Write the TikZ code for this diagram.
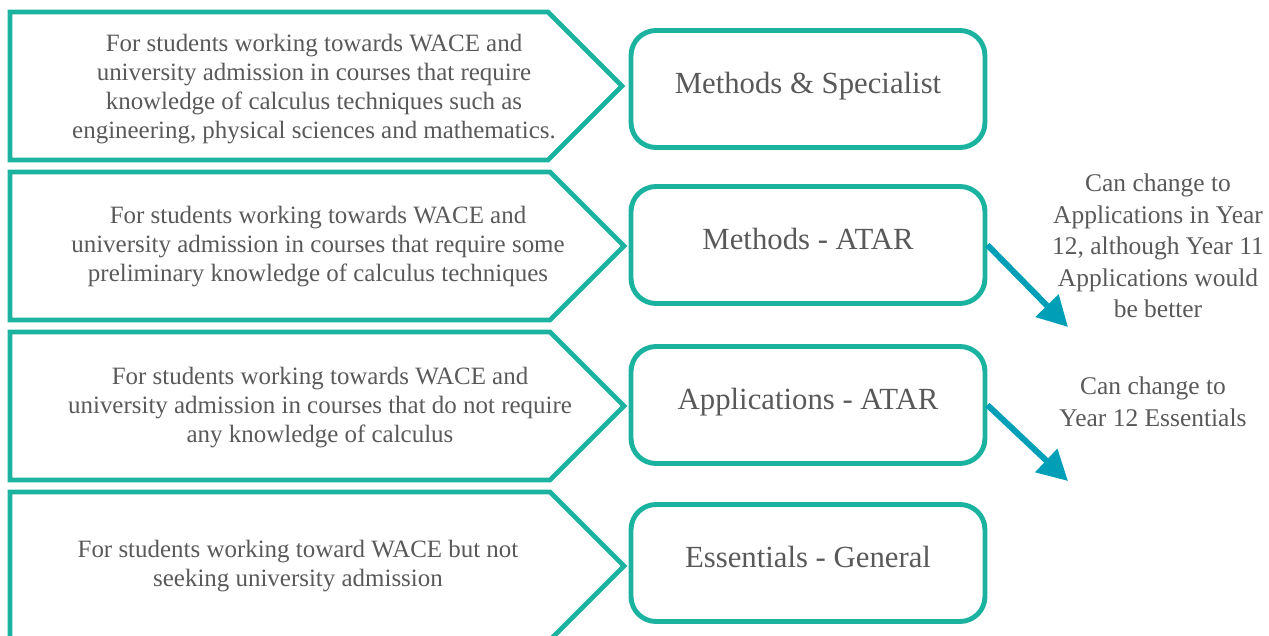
\documentclass[tikz,border=0pt]{standalone}
\usepackage{fontspec}
\setmainfont{Liberation Serif}
\usetikzlibrary{arrows.meta}
\definecolor{tealline}{HTML}{1BB3A0}
\definecolor{arrowblue}{HTML}{009FB8}
\definecolor{textgray}{HTML}{595959}
\tikzset{
  chevron/.style={draw=tealline, line width=2.8pt, line join=miter},
  desc/.style={text=textgray, align=center, font=\fontsize{14.2}{16.5}\selectfont},
  course/.style={draw=tealline, line width=2.8pt, rounded corners=0.5cm, minimum width=7.08cm,
    minimum height=2.34cm, text depth=0.25cm, text=textgray, font=\fontsize{17.5}{20}\selectfont},
  note/.style={text=textgray, align=center, font=\fontsize{14.5}{18}\selectfont},
  change/.style={draw=arrowblue, line width=3.4pt, -{Triangle[length=0.6cm,width=0.62cm]}}
}
\begin{document}
\begin{tikzpicture}[x=0.02cm, y=-0.02cm]
        \useasboundingbox (0,0) rectangle (1269,636);

        % Chevrons
        \draw[chevron] (10,12) -- (548,12) -- (622,86) -- (548,160) -- (10,160) -- cycle;
        \draw[chevron] (10,172) -- (550,172) -- (624,246) -- (550,320) -- (10,320) -- cycle;
        \draw[chevron] (10,332) -- (550,332) -- (624,406) -- (550,480) -- (10,480) -- cycle;
        \draw[chevron] (10,492) -- (550,492) -- (624,566) -- (550,640) -- (10,640) -- cycle;

        % Nodes
        \node(d1) [desc] at (314,89) {For students working towards WACE and\\university admission in courses that require\\knowledge of calculus techniques such as\\engineering, physical sciences and mathematics.};
        \node(d2) [desc] at (318,247) {For students working towards WACE and\\university admission in courses that require some\\preliminary knowledge of calculus techniques};
        \node(d3) [desc] at (320,408) {For students working towards WACE and\\university admission in courses that do not require\\any knowledge of calculus};
        \node(d4) [desc] at (298,566) {For students working toward WACE but not\\seeking university admission};

        \node(m1) [course] at (808,89) {Methods \& Specialist};
        \node(m2) [course] at (808,245) {Methods - ATAR};
        \node(m3) [course] at (808,405) {Applications - ATAR};
        \node(m4) [course] at (808,563) {Essentials - General};

        \node(n1) [note] at (1158,246) {Can change to\\Applications in Year\\12, although Year 11\\Applications would\\be better};
        \node(n2) [note] at (1153,402) {Can change to\\Year 12 Essentials};

        % Edges
        \coordinate(e1) at (1068,327);
        \coordinate(e2) at (1068,481);
        \draw[change] (m2.east) -- (e1);
        \draw[change] (m3.east) -- (e2);
\end{tikzpicture}
\end{document}
